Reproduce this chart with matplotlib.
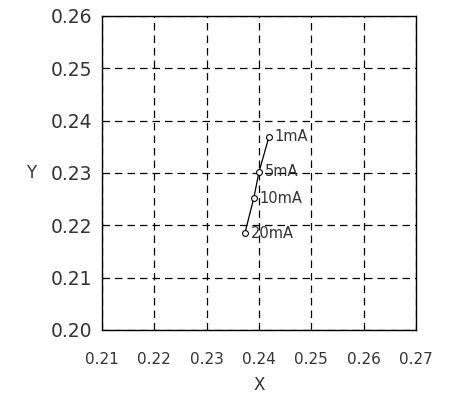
import matplotlib
matplotlib.use('Agg')
import matplotlib.pyplot as plt
import numpy as np

# readings
currents = ['1mA', '5mA', '10mA', '20mA']
x_vals = [0.2419, 0.2400, 0.2390, 0.2373]
y_vals = [0.2369, 0.2302, 0.2252, 0.2185]
x_ticks = [0.21, 0.22, 0.23, 0.24, 0.25, 0.26, 0.27]
y_ticks = [0.20, 0.21, 0.22, 0.23, 0.24, 0.25, 0.26]

fig = plt.figure(figsize=(4.51, 4.05), dpi=100)
ax = fig.add_axes([0.2262, 0.1852, 0.6962, 0.7753])

ax.plot(x_vals, y_vals, color='black', lw=0.9, marker='o', ms=4.2,
        mfc='white', mec='black', mew=0.8, zorder=3)
for lab, xv, yv in zip(currents, x_vals, y_vals):
    ax.annotate(lab, (xv, yv), xytext=(4, 0), textcoords='offset points',
                va='center', ha='left', fontsize=10.5, color='#333333')

ax.set_xlim(0.21, 0.27)
ax.set_ylim(0.20, 0.26)
ax.set_xticks(x_ticks)
ax.set_yticks(y_ticks)
ax.set_xticklabels(['%.2f' % v for v in x_ticks], fontsize=11, color='#333333')
ax.set_yticklabels(['%.2f' % v for v in y_ticks], fontsize=13.5, color='#333333')
ax.tick_params(axis='x', length=0, pad=16)
ax.tick_params(axis='y', length=0, pad=7)
ax.grid(True, color='black', ls=(0, (6, 4)), lw=0.9)
for s in ax.spines.values():
    s.set_linewidth(1.0)

ax.set_xlabel('X', fontsize=12, labelpad=6, color='#333333')
ax.set_ylabel('Y', fontsize=12, rotation=0, labelpad=14, va='center', color='#333333')

fig.savefig('out.png', dpi=100)
